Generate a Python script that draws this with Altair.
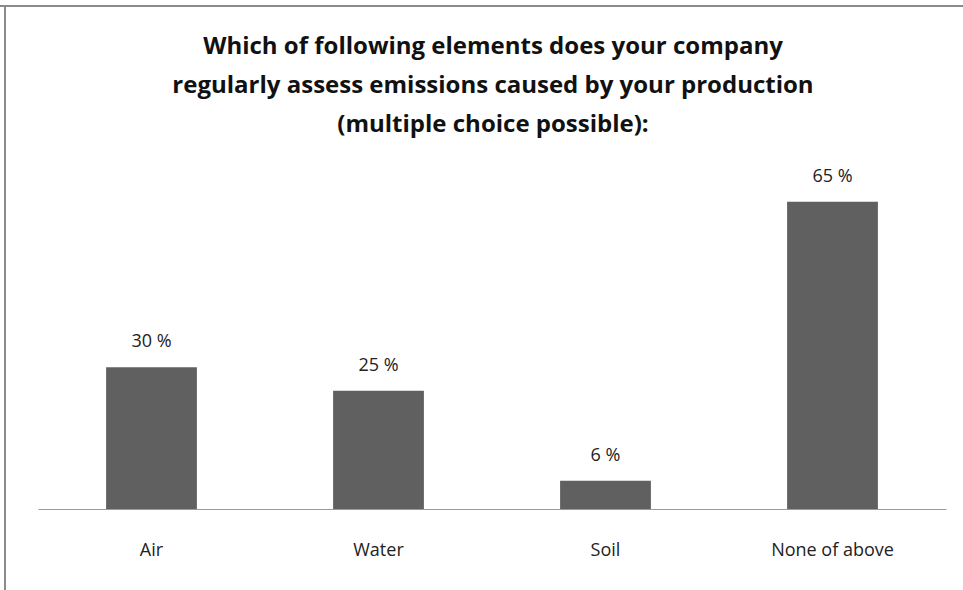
import altair as alt
import pandas as pd

categories = ["Air", "Water", "Soil", "None of above"]
values = [30, 25, 6, 65]
labels = ["30 %", "25 %", "6 %", "65 %"]
title_lines = ["Which of following elements does your company",
               "regularly assess emissions caused by your production",
               "(multiple choice possible):"]

df = pd.DataFrame({"cat": categories, "val": values, "lab": labels})

FONT = "Open Sans"

x = alt.X("cat:N", sort=categories, title=None,
          scale=alt.Scale(paddingInner=0.6, paddingOuter=0.3),
          axis=alt.Axis(labelAngle=0, ticks=False, domainColor="#9a9a9a",
                        domainWidth=1, labelFontSize=18, labelColor="#222222",
                        labelFont=FONT, labelPadding=32, grid=False))
y = alt.Y("val:Q", title=None, scale=alt.Scale(domain=[0, 70]), axis=None)

bars = alt.Chart(df).mark_bar(color="#606060").encode(x=x, y=y)
text = alt.Chart(df).mark_text(dy=-16, fontSize=18, font=FONT, color="#222222",
                               baseline="bottom").encode(x=x, y=y, text="lab:N")

title = alt.Chart(df.head(1)).mark_text(
    font=FONT, fontSize=24, fontWeight="bold", color="#111111",
    lineHeight=39, align="center", baseline="middle").encode(
    x=alt.value(455), y=alt.value(-131), text=alt.value(title_lines))

frame_top = alt.Chart(df).mark_rule(color="#8a8a8a", strokeWidth=2).encode(
    x=alt.value(-38), x2=alt.value(930), y=alt.value(-172))
frame_left = alt.Chart(df).mark_rule(color="#8a8a8a", strokeWidth=2).encode(
    x=alt.value(-33), y=alt.value(-172), y2=alt.value(420))

chart = alt.layer(bars, text, title, frame_top, frame_left).properties(
    width=908, height=331,
    autosize=alt.AutoSizeParams(type="none"),
    padding={"left": 38, "top": 178, "right": 17, "bottom": 81},
    background="white",
).configure_view(stroke=None)

chart.save("out.html", embed_options={"renderer": "svg", "actions": False})
